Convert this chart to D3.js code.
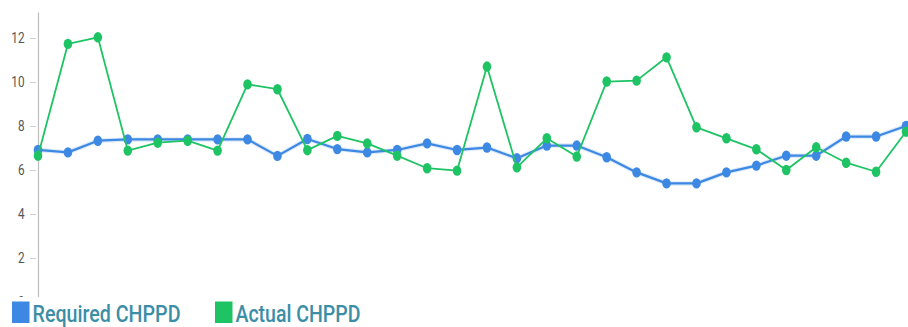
<!DOCTYPE html>
<html>
<head>
<meta charset="utf-8">
<script src="https://cdn.jsdelivr.net/npm/d3@7"></script>
<style>
  html, body { margin: 0; padding: 0; background: #fff; overflow: hidden; }
  svg { display: block; }
</style>
</head>
<body>
<svg id="chart" width="908" height="327"></svg>
<script>
// Daily care hours per patient day: required vs actual
const days = d3.range(1, 31).map(d => "Day " + d);
const requiredCHPPD = [6.91, 6.80, 7.33, 7.39, 7.39, 7.39, 7.39, 7.39, 6.64, 7.41,
                       6.95, 6.80, 6.91, 7.21, 6.91, 7.02, 6.53, 7.11, 7.11, 6.58,
                       5.89, 5.39, 5.39, 5.89, 6.20, 6.65, 6.65, 7.52, 7.52, 8.00];
const actualCHPPD   = [6.65, 11.73, 12.03, 6.88, 7.24, 7.33, 6.88, 9.89, 9.67, 6.90,
                       7.55, 7.21, 6.65, 6.08, 5.97, 10.70, 6.12, 7.44, 6.61, 10.02,
                       10.06, 11.12, 7.94, 7.44, 6.94, 6.00, 7.03, 6.33, 5.92, 7.74];
const yTicks = [0, 2, 4, 6, 8, 10, 12];
const seriesNames = ["Required CHPPD", "Actual CHPPD"];

const colors = { req: "#3d88e2", act: "#1ec464" };

const svg = d3.select("#chart");

const x = d3.scalePoint().domain(days).range([38, 906]);
const y = d3.scaleLinear().domain([0, 13.18]).range([302, 12]);

// Y axis
const yAxis = svg.append("g")
  .attr("transform", "translate(38,0)")
  .call(d3.axisLeft(y).tickValues(yTicks).tickSize(7).tickSizeOuter(0).tickPadding(5));
yAxis.select(".domain").attr("stroke", "#bdbdbd").attr("stroke-width", 1.2);
yAxis.selectAll(".tick line").attr("stroke", "#cfcfcf").attr("x1", -2).attr("x2", -8);
yAxis.selectAll(".tick text")
  .attr("fill", "#555")
  .attr("font-family", "Roboto, sans-serif")
  .attr("font-size", 14)
  .attr("transform", "scale(0.84,1)")
  .attr("x", -16);

// Lines
const line = vals => d3.line()
  .x((d, i) => x(days[i]))
  .y(d => y(d))(vals);

const g = svg.append("g");

// Required series (soft halo under main stroke)
g.append("path").attr("d", line(requiredCHPPD))
  .attr("fill", "none").attr("stroke", colors.req).attr("stroke-opacity", 0.18)
  .attr("stroke-width", 4.5).attr("stroke-linejoin", "round");
g.append("path").attr("d", line(requiredCHPPD))
  .attr("fill", "none").attr("stroke", colors.req)
  .attr("stroke-width", 2.2).attr("stroke-linejoin", "round");
g.selectAll(".req-pt").data(requiredCHPPD).join("ellipse")
  .attr("class", "req-pt")
  .attr("cx", (d, i) => x(days[i])).attr("cy", d => y(d))
  .attr("rx", 4.3).attr("ry", 5.2)
  .attr("fill", colors.req);

// Actual series
g.append("path").attr("d", line(actualCHPPD))
  .attr("fill", "none").attr("stroke", colors.act)
  .attr("stroke-width", 1.8).attr("stroke-linejoin", "round");
g.selectAll(".act-pt").data(actualCHPPD).join("ellipse")
  .attr("class", "act-pt")
  .attr("cx", (d, i) => x(days[i])).attr("cy", d => y(d))
  .attr("rx", 4.3).attr("ry", 5.2)
  .attr("fill", colors.act);

// Legend strip
const legend = svg.append("g");
legend.append("rect").attr("x", 0).attr("y", 297).attr("width", 908).attr("height", 30).attr("fill", "#fff");

const items = [
  { name: seriesNames[0], color: colors.req, x: 12, w: 148 },
  { name: seriesNames[1], color: colors.act, x: 215, w: 125 }
];
items.forEach(it => {
  legend.append("rect").attr("x", it.x).attr("y", 301.5).attr("width", 17.5).attr("height", 21.5).attr("fill", it.color);
  legend.append("text")
    .attr("x", it.x + 20.5).attr("y", 321.5)
    .attr("font-family", "Roboto, sans-serif")
    .attr("font-size", 23.5)
    .attr("font-weight", 500)
    .attr("fill", "#3c8ea6")
    .attr("textLength", it.w)
    .attr("lengthAdjust", "spacingAndGlyphs")
    .text(it.name);
});
</script>
</body>
</html>
